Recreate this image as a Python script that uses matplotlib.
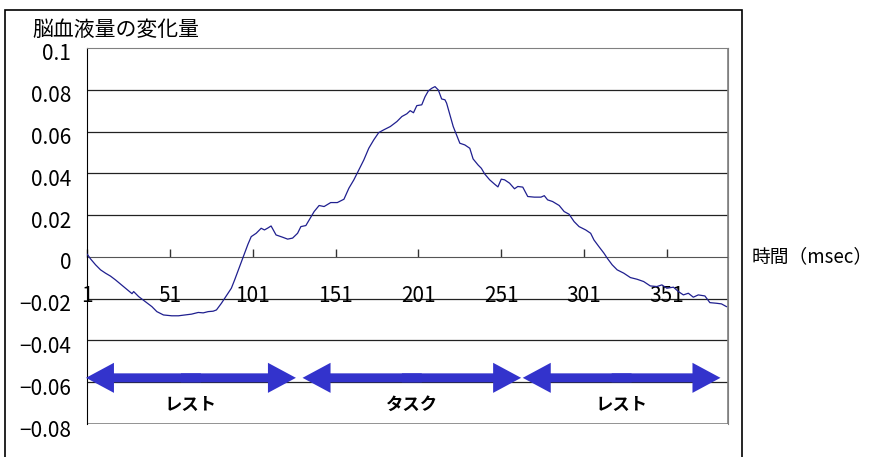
import matplotlib.pyplot as plt
import matplotlib.transforms as mtransforms
from matplotlib.patches import Rectangle, FancyArrow

# Sample index (x axis) and change in cerebral blood volume
time_idx = [1, 3, 6, 9, 12, 15, 18, 21, 24, 28, 29, 32, 36, 40, 43, 47, 52, 56,
            60, 64, 68, 71, 74, 77, 79, 82, 84, 86, 88, 90, 93, 96, 98, 100, 103,
            106, 108, 110, 112, 115, 119, 122, 125, 128, 130, 133, 135, 138, 141,
            144, 148, 152, 156, 159, 162, 165, 168, 171, 174, 177, 180, 184, 188,
            191, 194, 196, 198, 200, 203, 205, 207, 209, 211, 213, 215, 217, 218,
            220, 222, 224, 226, 229, 232, 234, 237, 239, 241, 244, 247, 249, 251,
            253, 256, 259, 261, 264, 267, 271, 275, 277, 279, 282, 286, 289, 292,
            295, 298, 302, 305, 307, 310, 313, 315, 318, 321, 325, 329, 333, 337,
            341, 345, 348, 351, 355, 358, 361, 364, 367, 370, 374, 377, 381, 384, 387]
blood_change = [0.0012, -0.0010, -0.0038, -0.0062, -0.0078, -0.0092, -0.0110,
                -0.0130, -0.0150, -0.0176, -0.0166, -0.0190, -0.0214, -0.0238,
                -0.0262, -0.0278, -0.0282, -0.0282, -0.0278, -0.0274, -0.0266,
                -0.0268, -0.0262, -0.0260, -0.0254, -0.0222, -0.0198, -0.0174,
                -0.0150, -0.0110, -0.0046, 0.0018, 0.0060, 0.0097, 0.0113, 0.0137,
                0.0129, 0.0138, 0.0148, 0.0105, 0.0094, 0.0085, 0.0090, 0.0113,
                0.0145, 0.0150, 0.0177, 0.0217, 0.0246, 0.0241, 0.0260, 0.0260,
                0.0276, 0.0329, 0.0369, 0.0416, 0.0464, 0.0520, 0.0560, 0.0595,
                0.0608, 0.0624, 0.0648, 0.0672, 0.0685, 0.0700, 0.0690, 0.0724,
                0.0728, 0.0767, 0.0795, 0.0807, 0.0815, 0.0799, 0.0756, 0.0752,
                0.0736, 0.0680, 0.0624, 0.0584, 0.0544, 0.0536, 0.0520, 0.0469,
                0.0440, 0.0424, 0.0397, 0.0369, 0.0348, 0.0335, 0.0372, 0.0369,
                0.0353, 0.0326, 0.0337, 0.0334, 0.0289, 0.0286, 0.0286, 0.0293,
                0.0273, 0.0265, 0.0246, 0.0217, 0.0204, 0.0169, 0.0145, 0.0129,
                0.0113, 0.0081, 0.0049, 0.0018, -0.0006, -0.0038, -0.0062, -0.0078,
                -0.0099, -0.0107, -0.0118, -0.0139, -0.0142, -0.0134, -0.0150,
                -0.0145, -0.0166, -0.0182, -0.0174, -0.0193, -0.0182, -0.0187,
                -0.0219, -0.0222, -0.0225, -0.0238]

x_ticks = [1, 51, 101, 151, 201, 251, 301, 351]
y_ticks = [-0.08, -0.06, -0.04, -0.02, 0, 0.02, 0.04, 0.06, 0.08, 0.1]
y_tick_labels = ["−0.08", "−0.06", "−0.04", "−0.02", "0", "0.02", "0.04", "0.06", "0.08", "0.1"]

# phases (label, start, end) shown as double arrows under the curve
phase_names = ["レスト", "タスク", "レスト"]
phase_start = [0.2, 131, 264]
phase_end = [127, 263, 383.4]

plt.rcParams["font.family"] = ["Liberation Sans Narrow", "Noto Sans CJK JP", "DejaVu Sans"]
JP = ["Noto Sans CJK JP", "DejaVu Sans"]
ARROW_BLUE = "#3333CC"

fig = plt.figure(figsize=(8.73, 4.57), dpi=100)
ax = fig.add_axes([0.1, 0.0722, 0.734, 0.8228])

ax.plot(time_idx, blood_change, color="#1f1f8f", linewidth=0.9, zorder=3)

ax.set_xlim(1, 388)
ax.set_ylim(-0.08, 0.1)
ax.set_yticks(y_ticks)
ax.set_yticklabels(y_tick_labels)
ax.set_xticks(x_ticks)
ax.set_xticklabels([str(t) for t in x_ticks])

# horizontal gridlines
for yv in y_ticks[1:-1]:
    if yv != 0:
        ax.axhline(yv, color="#222222", linewidth=0.9, zorder=1)

# category axis crossing at zero, ticks pointing up
ax.spines["bottom"].set_position(("data", 0))
ax.spines["bottom"].set_color("#555555")
ax.spines["bottom"].set_zorder(2)
ax.spines["left"].set_color("black")
ax.spines["top"].set_color("#808080")
ax.spines["right"].set_color("#808080")
ax.add_patch(Rectangle((0, 0), 1, 1, transform=ax.transAxes, fill=False,
                       edgecolor="#808080", linewidth=1.2, zorder=2))

ax.tick_params(axis="x", direction="in", length=6, width=1, color="#333333",
               pad=20.5, labelsize=15)
ax.tick_params(axis="y", length=0, pad=11.5, labelsize=15)

# Excel-like label placement: a bit lower than the gridline
shift = mtransforms.ScaledTranslation(0, -4 / 100, fig.dpi_scale_trans)
for lab in ax.get_yticklabels():
    lab.set_transform(lab.get_transform() + shift)

# phase arrows, each drawn as two heads from its middle (overlapping a little)
arrow_y = -0.0579
for name, x0, x1 in zip(phase_names, phase_start, phase_end):
    mid = (x0 + x1) / 2
    for tip in (x0, x1):
        start = mid + (6 if tip < mid else -6)
        ax.add_patch(FancyArrow(start, arrow_y, tip - start, 0, width=0.0043,
                                head_width=0.0144, head_length=16.9,
                                length_includes_head=True, color=ARROW_BLUE,
                                linewidth=0, clip_on=False, zorder=4))
    ax.text(mid, -0.0709, name, ha="center", va="center", fontsize=12.5,
            fontweight="bold", family=JP)

# outer chart area border
fig.add_artist(Rectangle((5 / 873, -0.05), 737 / 873, 1.05 - 10 / 457,
                         transform=fig.transFigure, fill=False,
                         edgecolor="black", linewidth=1.2))

fig.text(32 / 873, 1 - 30 / 457, "脳血液量の変化量", ha="left", va="center",
         fontsize=15, family=JP)
fig.text(752 / 873, 1 - 257 / 457, "時間（msec）", ha="left", va="center",
         fontsize=13.5, family=JP)

fig.savefig("out.png", dpi=100)
